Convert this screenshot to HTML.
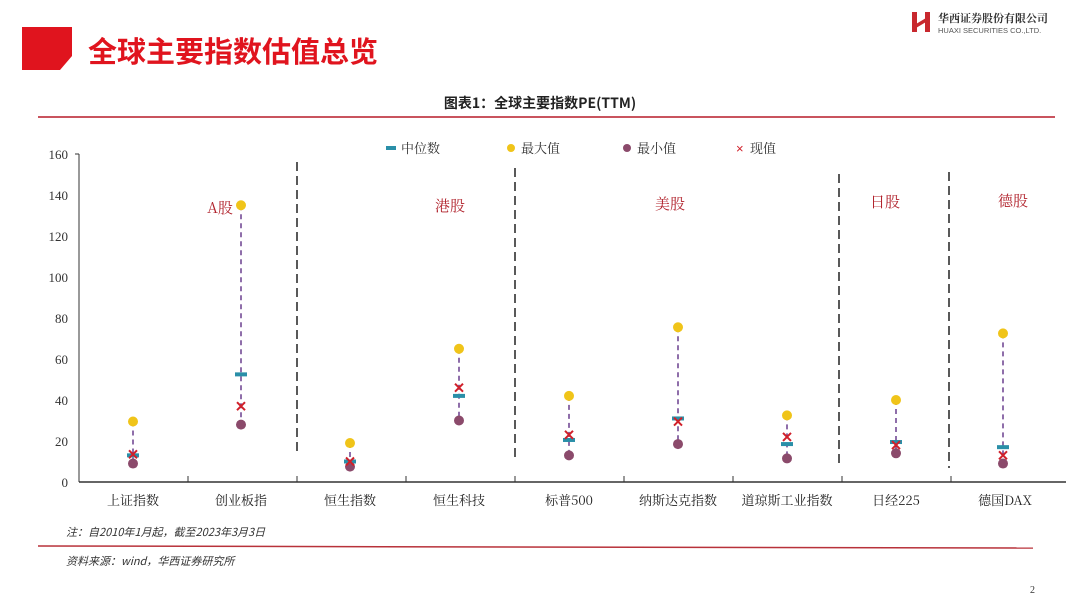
<!DOCTYPE html><html><head><meta charset="utf-8"><style>
body{margin:0;width:1080px;height:605px;background:#fff;overflow:hidden;font-family:"Liberation Serif","Noto Serif CJK SC",serif}
</style></head><body>
<svg width="1080" height="605" xmlns="http://www.w3.org/2000/svg" font-family="Liberation Serif, Noto Serif CJK SC, serif">
<polygon points="22,27 72,27 72,56 60,70 22,70" fill="#e0141e"/>
<text x="88" y="62" font-family="Noto Sans CJK SC, sans-serif" font-weight="bold" font-size="29" fill="#e0141e">全球主要指数估值总览</text>
<rect x="912" y="12" width="5" height="20" fill="#c8282e"/><rect x="925" y="12" width="5" height="20" fill="#c8282e"/><polygon points="916,24 926,18 926,22 916,28" fill="#c8282e"/>
<text x="938" y="22" font-size="11" fill="#333" font-weight="bold">华西证券股份有限公司</text>
<text x="938" y="33" font-size="7.5" fill="#555" font-family="Liberation Sans, sans-serif">HUAXI SECURITIES CO.,LTD.</text>
<text x="540" y="108" text-anchor="middle" font-size="14" font-weight="bold" fill="#222" font-family="Noto Sans CJK SC, sans-serif">图表1：全球主要指数PE(TTM)</text>
<line x1="38" y1="117" x2="1055" y2="117" stroke="#c9545e" stroke-width="2"/>
<g font-size="13" fill="#333" text-anchor="end">
<text x="68" y="159">160</text><text x="68" y="200">140</text><text x="68" y="241">120</text><text x="68" y="282">100</text><text x="68" y="323">80</text><text x="68" y="364">60</text><text x="68" y="405">40</text><text x="68" y="446">20</text><text x="68" y="487">0</text>
</g>
<line x1="79" y1="154" x2="79" y2="482" stroke="#333"/>
<line x1="79" y1="482" x2="1066" y2="482" stroke="#333" stroke-width="1.5"/>
<g stroke="#333"><line x1="75" y1="154" x2="79" y2="154"/>
<line x1="188" y1="482" x2="188" y2="476"/><line x1="297" y1="482" x2="297" y2="476"/><line x1="406" y1="482" x2="406" y2="476"/><line x1="515" y1="482" x2="515" y2="476"/><line x1="624" y1="482" x2="624" y2="476"/><line x1="733" y1="482" x2="733" y2="476"/><line x1="842" y1="482" x2="842" y2="476"/><line x1="951" y1="482" x2="951" y2="476"/></g>
<g stroke="#222" stroke-width="1.5" stroke-dasharray="9,5"><line x1="297" y1="162" x2="297" y2="455"/><line x1="515" y1="168" x2="515" y2="462"/><line x1="839" y1="174" x2="839" y2="468"/><line x1="949" y1="172" x2="949" y2="468"/></g>
<g font-size="13" fill="#222" text-anchor="middle" font-family="Noto Serif CJK SC, serif">
<text x="133" y="505">上证指数</text><text x="241" y="505">创业板指</text><text x="350" y="505">恒生指数</text><text x="459" y="505">恒生科技</text><text x="569" y="505">标普500</text><text x="678" y="505">纳斯达克指数</text><text x="787" y="505">道琼斯工业指数</text><text x="896" y="505">日经225</text><text x="1005" y="505">德国DAX</text>
</g>
<g font-size="15" fill="#b0202a" text-anchor="middle" font-family="Noto Serif CJK SC, serif">
<text x="220" y="213">A股</text><text x="450" y="211">港股</text><text x="670" y="209">美股</text><text x="885" y="207">日股</text><text x="1013" y="206">德股</text></g>
<g font-size="13" fill="#333" font-family="Noto Serif CJK SC, serif">
<rect x="386" y="146" width="10" height="4" fill="#2a8fa8"/><text x="401" y="153">中位数</text>
<circle cx="511" cy="148" r="4" fill="#f0c419"/><text x="521" y="153">最大值</text>
<circle cx="627" cy="148" r="4" fill="#8b4a6b"/><text x="637" y="153">最小值</text>
<text x="736" y="153" fill="#d0202a" font-family="Liberation Sans">×</text><text x="750" y="153">现值</text></g>
<g id="pts"></g>
<text x="66" y="536" font-size="11" font-style="italic" fill="#333" font-family="Noto Sans CJK SC, sans-serif">注：自2010年1月起，截至2023年3月3日</text>
<line x1="38" y1="546" x2="1033" y2="548" stroke="#b8323a" stroke-width="1.5"/>
<text x="66" y="565" font-size="11" font-style="italic" fill="#333" font-family="Noto Sans CJK SC, sans-serif">资料来源：wind，华西证券研究所</text>
<text x="1030" y="593" font-size="10" fill="#333">2</text>
</svg>
<script>
var d=[[133,29.5,13,9,13.5],[241,135,52.5,28,37],[350,19,10,7.5,10],[459,65,42,30,46],[569,42,20.5,13,23],[678,75.5,31,18.5,29.5],[787,32.5,18.5,11.5,22],[896,40,19.5,14,18],[1003,72.5,17,9,13]];
var s='';function y(v){return 482-v*2.05}
d.forEach(function(r){var x=r[0];
s+='<line x1="'+x+'" y1="'+y(r[1])+'" x2="'+x+'" y2="'+y(r[3])+'" stroke="#6a3f8e" stroke-width="1.5" stroke-dasharray="5,4"/>';
s+='<circle cx="'+x+'" cy="'+y(r[1])+'" r="5" fill="#f0c419"/>';
s+='<circle cx="'+x+'" cy="'+y(r[3])+'" r="5" fill="#8b4a6b"/>';
s+='<rect x="'+(x-6)+'" y="'+(y(r[2])-2)+'" width="12" height="4" fill="#2a8fa8"/>';
var c=y(r[4]);s+='<path d="M'+(x-4)+' '+(c-4)+'L'+(x+4)+' '+(c+4)+'M'+(x+4)+' '+(c-4)+'L'+(x-4)+' '+(c+4)+'" stroke="#d0202a" stroke-width="2"/>';});
document.getElementById('pts').innerHTML=s;
</script>
</body></html>
